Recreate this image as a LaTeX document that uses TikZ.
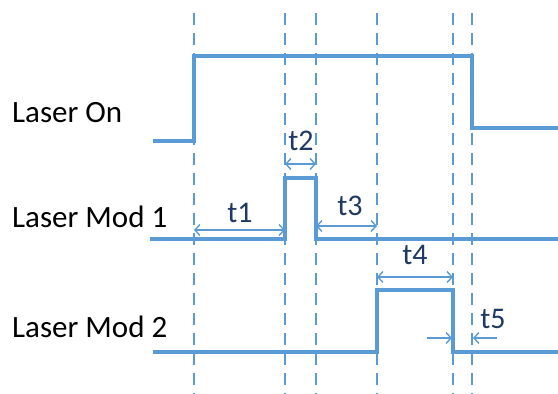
\documentclass[tikz,border=0pt]{standalone}
\usepackage{fontspec}
\setmainfont{Carlito}
\definecolor{sigblue}{RGB}{91,155,213}
\definecolor{tdark}{RGB}{31,56,100}
\usetikzlibrary{arrows.meta,positioning}

\begin{document}
\begin{tikzpicture}[
  x=1pt, y=-1pt,
  signal/.style={draw=sigblue, line width=3.4pt},
  guide/.style={draw=sigblue, line width=2.8pt, dash pattern=on 12pt off 8pt},
  span/.style={{Straight Barb[length=5pt,width=11pt]}-{Straight Barb[length=5pt,width=11pt]}, draw=sigblue, line width=1.4pt},
  half/.style={-{Straight Barb[length=5pt,width=11pt]}, draw=sigblue, line width=1.4pt},
  chan/.style={anchor=base west, font=\fontsize{31}{34}\selectfont, text=black, inner sep=0pt},
  tlab/.style={anchor=base, font=\fontsize{30}{33}\selectfont, text=tdark, inner sep=0pt}
]
\useasboundingbox (0,0) rectangle (558,394);

\draw[guide] (194,13) -- (194,394);
\draw[guide] (285,13) -- (285,394);
\draw[guide] (316,13) -- (316,394);
\draw[guide] (377,13) -- (377,394);
\draw[guide] (453,13) -- (453,394);
\draw[guide] (472,13) -- (472,394);

\node[chan] (on)   at (12,122) {Laser On};
\node[chan] (mod1) at (12,227) {Laser Mod 1};
\node[chan] (mod2) at (12,337) {Laser Mod 2};

\draw[signal] (153,141) -- (194,141) -- (194,56) -- (472,56) -- (472,128) -- (558,128);
\draw[signal] (150,239) -- (285,239) -- (285,178) -- (316,178) -- (316,239) -- (558,239);
\draw[signal] (153,352) -- (377,352) -- (377,290) -- (453,290) -- (453,352) -- (558,352);

\coordinate (t1a) at (194,230);
\coordinate (t1b) at (285,230);
\coordinate (t2a) at (285,164);
\coordinate (t2b) at (316,164);
\coordinate (t3a) at (316,226);
\coordinate (t3b) at (377,226);
\coordinate (t4a) at (377,277);
\coordinate (t4b) at (453,277);
\coordinate (t5a) at (427,338);
\coordinate (t5b) at (452,338);
\coordinate (t5c) at (497,338);
\coordinate (t5d) at (473,338);

\draw[span] (t1a) -- (t1b);
\draw[span] (t2a) -- (t2b);
\draw[span] (t3a) -- (t3b);
\draw[span] (t4a) -- (t4b);
\draw[half] (t5a) -- (t5b);
\draw[half] (t5c) -- (t5d);

\node[tlab] (lt1) at (240,222) {t1};
\node[tlab] (lt2) at (301,150) {t2};
\node[tlab] (lt3) at (350,215) {t3};
\node[tlab] (lt4) at (415,264) {t4};
\node[tlab] (lt5) at (493,328) {t5};
\end{tikzpicture}
\end{document}
